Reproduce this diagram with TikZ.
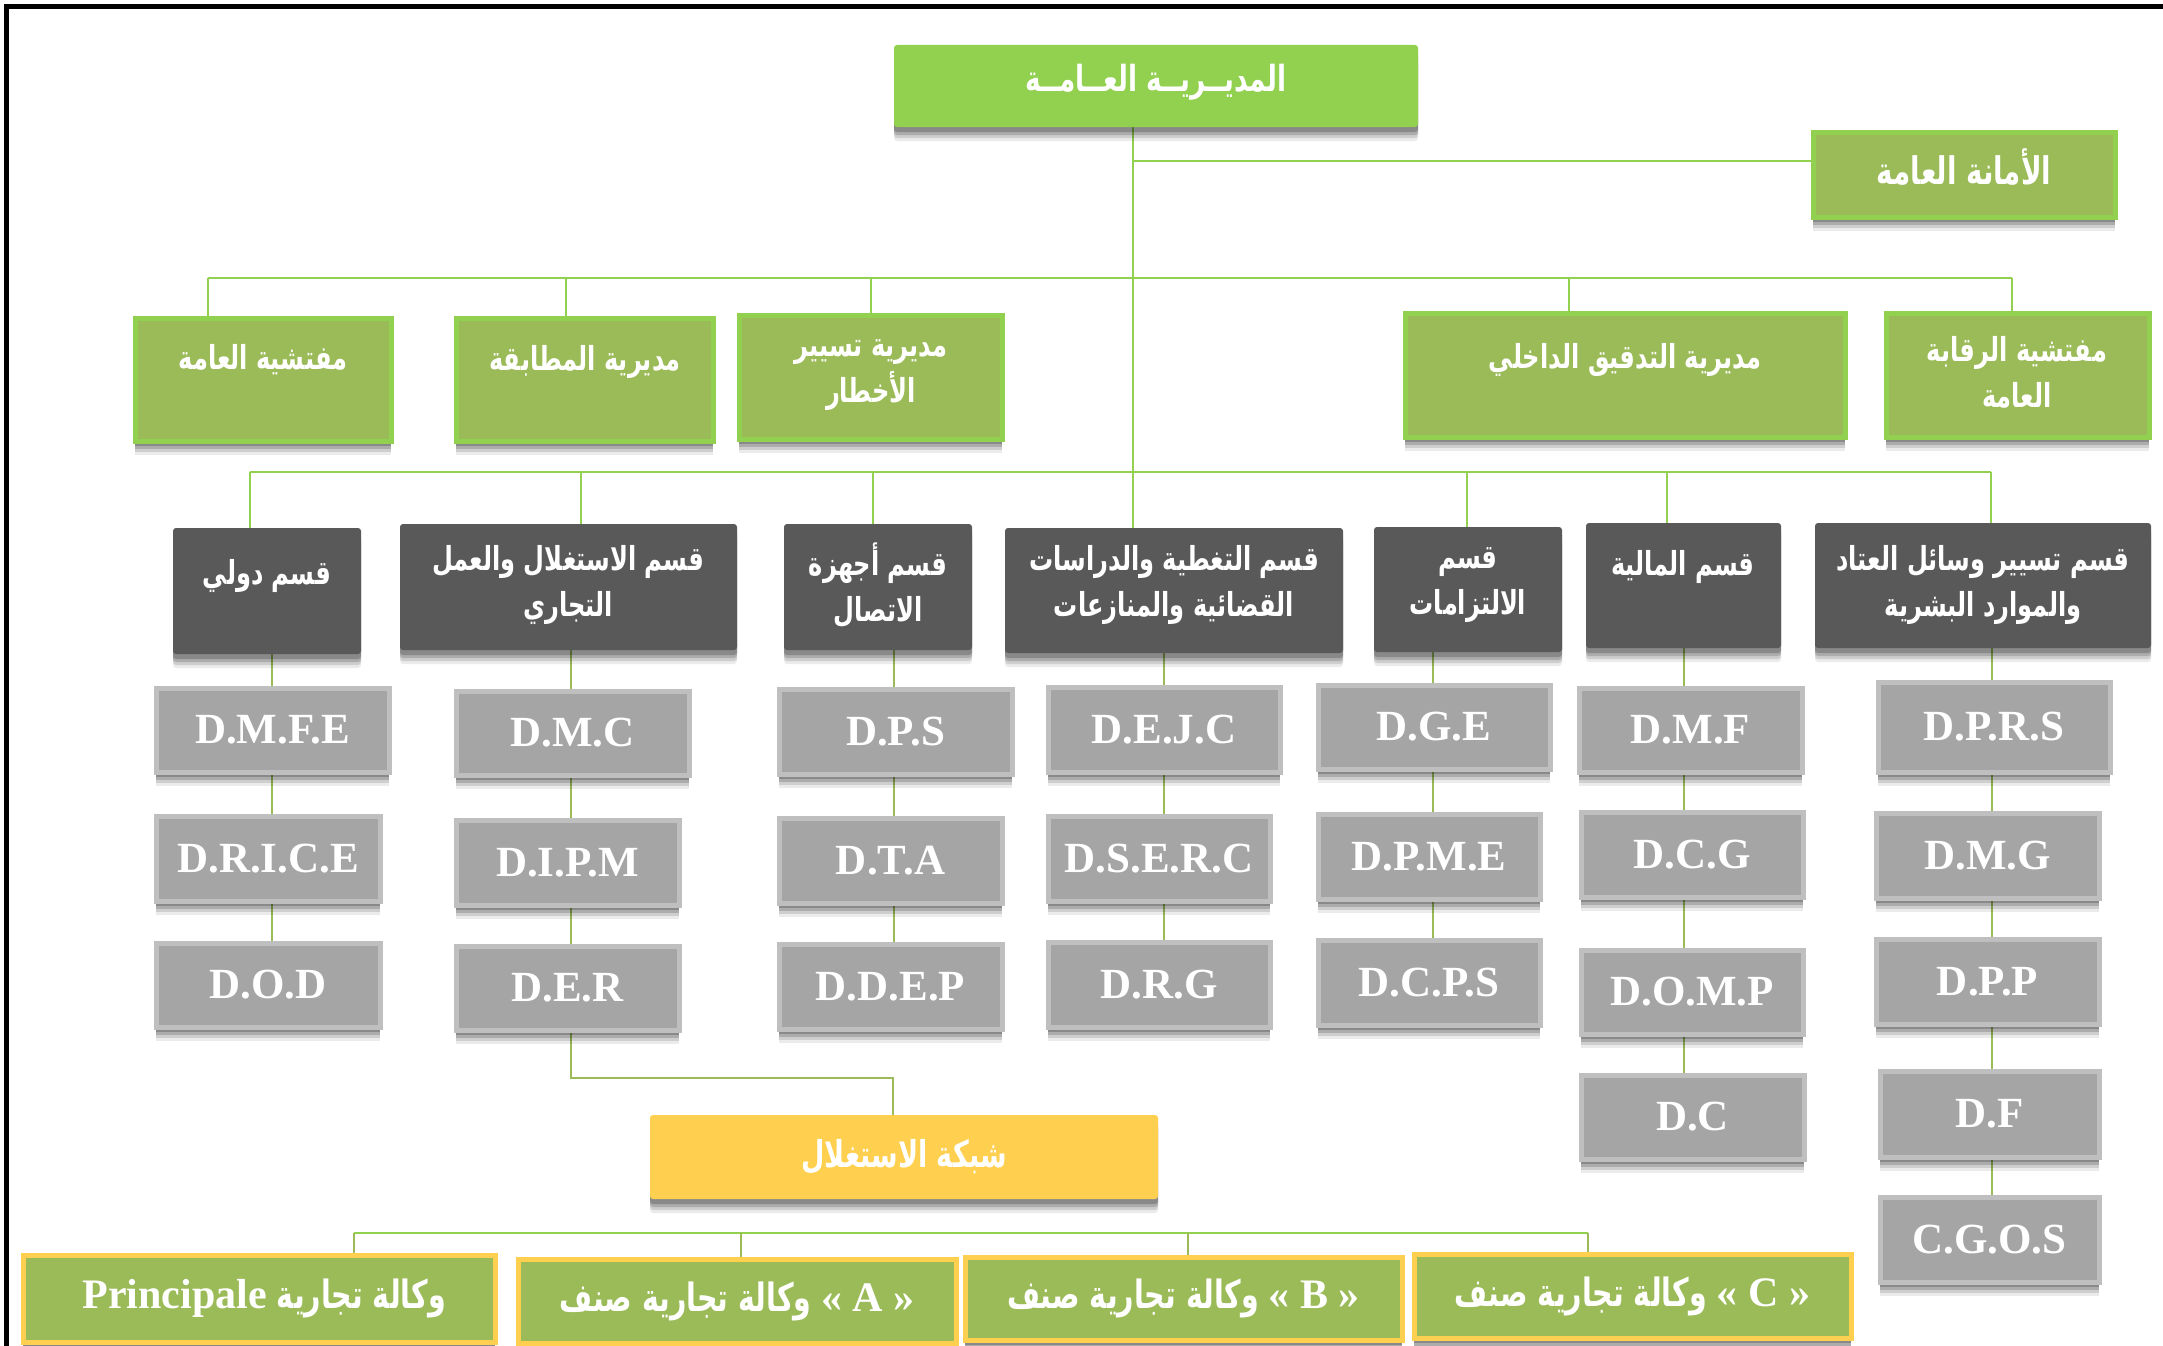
\documentclass[tikz,border=0pt]{standalone}
\usepackage{fontspec}
\TeXXeTstate=1
\newfontfamily\arabicfont[Script=Arabic,FakeStretch=0.73]{DejaVu Sans}
\newfontfamily\latinfont{Liberation Serif}

\definecolor{leaf}{HTML}{92D050}
\definecolor{olive}{HTML}{9BBB59}
\definecolor{slate}{HTML}{595959}
\definecolor{stone}{HTML}{A5A5A5}
\definecolor{stoneedge}{HTML}{BFBFBF}
\definecolor{sun}{HTML}{FFD04F}

\pgfdeclarelayer{bg}
\pgfsetlayers{bg,main}

% right-to-left run
\newcommand\ar[1]{\beginR #1\endR}
% Latin run inside Arabic text
\newcommand\la[1]{\beginL{\latinfont\fontsize{42}{46}\selectfont #1}\endL}

% box from its outer corners: style, name, x1, y1, x2, y2, text
\newcommand\orgbox[7]{%
  \node[#1, minimum width={(#5)-(#3)}, minimum height={(#6)-(#4)}]
    (#2) at ({((#3)+(#5))/2},{((#4)+(#6))/2}) {#7};}

\tikzset{
  % soft shadow built from a few offset translucent copies
  shade/.style={
    preaction={fill=black, opacity=0.08, transform canvas={yshift=-14pt}},
    preaction={fill=black, opacity=0.12, transform canvas={yshift=-11pt}},
    preaction={fill=black, opacity=0.16, transform canvas={yshift=-8pt}},
    preaction={fill=black, opacity=0.20, transform canvas={yshift=-5pt}}},
  basebox/.style={rectangle, inner sep=0pt, outer sep=0pt, shade},
  topbox/.style={basebox, fill=leaf, rounded corners=3pt},
  unitbox/.style={basebox, fill=olive, draw=leaf, line width=5pt},
  deptbox/.style={basebox, fill=slate, rounded corners=3pt},
  codebox/.style={basebox, fill=stone, draw=stoneedge, line width=5pt,
      text=white, font=\latinfont\bfseries\fontsize{43}{46}\selectfont},
  netbox/.style={basebox, fill=sun, rounded corners=3pt, text=white,
      font=\arabicfont\bfseries\fontsize{37}{46}\selectfont},
  agencybox/.style={basebox, fill=olive, draw=sun, line width=5pt, text=white,
      font=\arabicfont\bfseries\fontsize{39}{46}\selectfont},
  artxt/.style={text=white, align=center, inner sep=0pt,
      font=\arabicfont\bfseries\fontsize{33}{46}\selectfont},
  conn/.style={draw=leaf, line width=2.5pt},
  colconn/.style={draw=olive, line width=2pt},
}

\begin{document}
\begin{tikzpicture}[x=1pt,y=-1pt]
\useasboundingbox (0,0) rectangle (2163,1346);
\begin{pgfonlayer}{bg}
  \fill[white] (0,0) rectangle (2163,1346);
\end{pgfonlayer}

% ---------- head ----------
\orgbox{topbox}{gm}{894}{45}{1418}{127}{}
\node[artxt, font=\arabicfont\bfseries\fontsize{36}{46}\selectfont] (gm-t) at (1156,82) {\ar{المديــريــة العــامــة}};

\orgbox{unitbox}{sec}{1813}{132}{2115}{217}{}
\node[artxt, font=\arabicfont\bfseries\fontsize{38}{46}\selectfont] (sec-t) at (1964,167) {\ar{الأمانة العامة}};

% ---------- directorates ----------
\orgbox{unitbox}{insp}{135}{318}{391}{441}{}
\node[artxt] (insp-t) at (263,360) {\ar{مفتشية العامة}};
\orgbox{unitbox}{conf}{456}{318}{713}{441}{}
\node[artxt] (conf-t) at (585,362) {\ar{مديرية المطابقة}};
\orgbox{unitbox}{risk}{739}{315}{1002}{439}{}
\node[artxt] (risk-t) at (871,375) {\ar{مديرية تسيير}\\\ar{الأخطار}};
\orgbox{unitbox}{audit}{1405}{313}{1845}{437}{}
\node[artxt] (audit-t) at (1625,360) {\ar{مديرية التدقيق الداخلي}};
\orgbox{unitbox}{ctrl}{1886}{313}{2149}{437}{}
\node[artxt] (ctrl-t) at (2017,372) {\ar{مفتشية الرقابة}\\\ar{العامة}};

% ---------- departments ----------
\orgbox{deptbox}{dawli}{173}{528}{361}{654}{}
\node[artxt] (dawli-t) at (267,576) {\ar{قسم دولي}};
\orgbox{deptbox}{istig}{400}{524}{737}{650}{}
\node[artxt] (istig-t) at (568,585) {\ar{قسم الاستغلال والعمل}\\\ar{التجاري}};
\orgbox{deptbox}{ajhiza}{784}{524}{972}{650}{}
\node[artxt] (ajhiza-t) at (878,585) {\ar{قسم أجهزة}\\\ar{الاتصال}};
\orgbox{deptbox}{tagh}{1005}{528}{1343}{653}{}
\node[artxt] (tagh-t) at (1174,585) {\ar{قسم التغطية والدراسات}\\\ar{القضائية والمنازعات}};
\orgbox{deptbox}{iltiz}{1374}{527}{1562}{652}{}
\node[artxt] (iltiz-t) at (1468,585) {\ar{قسم}\\\ar{الالتزامات}};
\orgbox{deptbox}{maliya}{1586}{523}{1781}{648}{}
\node[artxt] (maliya-t) at (1683,567) {\ar{قسم المالية}};
\orgbox{deptbox}{itad}{1815}{523}{2151}{648}{}
\node[artxt] (itad-t) at (1983,585) {\ar{قسم تسيير وسائل العتاد}\\\ar{والموارد البشرية}};

% ---------- services ----------
\orgbox{codebox}{dmfe}{156}{688}{389}{772}{D.M.F.E}
\orgbox{codebox}{drice}{156}{816}{380}{901}{D.R.I.C.E}
\orgbox{codebox}{dod}{156}{943}{380}{1027}{D.O.D}

\orgbox{codebox}{dmc}{456}{691}{689}{775}{D.M.C}
\orgbox{codebox}{dipm}{456}{820}{679}{905}{D.I.P.M}
\orgbox{codebox}{der}{456}{946}{679}{1030}{D.E.R}

\orgbox{codebox}{dps}{779}{689}{1012}{774}{D.P.S}
\orgbox{codebox}{dta}{779}{818}{1002}{903}{D.T.A}
\orgbox{codebox}{ddep}{779}{944}{1002}{1029}{D.D.E.P}

\orgbox{codebox}{dejc}{1048}{687}{1280}{772}{D.E.J.C}
\orgbox{codebox}{dserc}{1048}{816}{1270}{901}{D.S.E.R.C}
\orgbox{codebox}{drg}{1048}{942}{1270}{1027}{D.R.G}

\orgbox{codebox}{dge}{1318}{685}{1550}{769}{D.G.E}
\orgbox{codebox}{dpme}{1318}{814}{1540}{899}{D.P.M.E}
\orgbox{codebox}{dcps}{1318}{940}{1540}{1025}{D.C.P.S}

\orgbox{codebox}{dmf}{1579}{688}{1802}{772}{D.M.F}
\orgbox{codebox}{dcg}{1581}{812}{1803}{897}{D.C.G}
\orgbox{codebox}{domp}{1581}{950}{1803}{1034}{D.O.M.P}
\orgbox{codebox}{dc}{1581}{1075}{1804}{1159}{D.C}

\orgbox{codebox}{dprs}{1878}{682}{2110}{772}{D.P.R.S}
\orgbox{codebox}{dmg}{1876}{813}{2099}{898}{D.M.G}
\orgbox{codebox}{dpp}{1876}{939}{2099}{1024}{D.P.P}
\orgbox{codebox}{df}{1880}{1071}{2099}{1157}{D.F}
\orgbox{codebox}{cgos}{1880}{1197}{2099}{1282}{C.G.O.S}

% ---------- network and agencies ----------
\orgbox{netbox}{net}{650}{1115}{1158}{1199}{\ar{شبكة الاستغلال}}
\orgbox{agencybox}{agp}{23}{1255}{495}{1342}{\ar{وكالة تجارية \la{ Principale}}}
\orgbox{agencybox}{aga}{518}{1259}{956}{1343}{\ar{\la{« A »} وكالة تجارية صنف}}
\orgbox{agencybox}{agb}{965}{1257}{1402}{1340}{\ar{\la{« B »} وكالة تجارية صنف}}
\orgbox{agencybox}{agc}{1414}{1254}{1851}{1338}{\ar{\la{« C »} وكالة تجارية صنف}}

% outer frame (top and left edges)
\draw[line width=5pt] (6,1346) -- (6,7) -- (2163,7);

% ---------- connectors ----------
\begin{pgfonlayer}{bg}
  % trunk and secretariat link
  \coordinate (trunk) at (1133,0);
  \coordinate (secj) at (1133,161);
  \draw[conn] (gm.south -| trunk) -- (tagh.north -| trunk);
  \draw[conn] (secj) -- (sec.west |- secj);

  % directorates bus
  \coordinate (u1) at (208,278);
  \coordinate (u2) at (566,278);
  \coordinate (u3) at (871,278);
  \coordinate (u4) at (1569,278);
  \coordinate (u5) at (2012,278);
  \draw[conn] (u1) -- (u5);
  \draw[conn] (u1) -- (insp.north -| u1);
  \draw[conn] (u2) -- (conf.north -| u2);
  \draw[conn] (u3) -- (risk.north -| u3);
  \draw[conn] (u4) -- (audit.north -| u4);
  \draw[conn] (u5) -- (ctrl.north -| u5);

  % departments bus
  \coordinate (p1) at (250,472);
  \coordinate (p2) at (581,472);
  \coordinate (p3) at (873,472);
  \coordinate (p5) at (1467,472);
  \coordinate (p6) at (1667,472);
  \coordinate (p7) at (1991,472);
  \draw[conn] (p1) -- (p7);
  \draw[conn] (p1) -- (dawli.north -| p1);
  \draw[conn] (p2) -- (istig.north -| p2);
  \draw[conn] (p3) -- (ajhiza.north -| p3);
  \draw[conn] (p5) -- (iltiz.north -| p5);
  \draw[conn] (p6) -- (maliya.north -| p6);
  \draw[conn] (p7) -- (itad.north -| p7);

  % service columns
  \coordinate (k1) at (271.5,0);
  \coordinate (k2) at (571,0);
  \coordinate (k3) at (894,0);
  \coordinate (k4) at (1163.5,0);
  \coordinate (k5) at (1433,0);
  \coordinate (k6) at (1684,0);
  \coordinate (k7) at (1991.5,0);
  \draw[colconn] (dawli.south -| k1) -- (dod.north -| k1);
  \draw[colconn] (istig.south -| k2) -- (der.north -| k2);
  \draw[colconn] (ajhiza.south -| k3) -- (ddep.north -| k3);
  \draw[colconn] (tagh.south -| k4) -- (drg.north -| k4);
  \draw[colconn] (iltiz.south -| k5) -- (dcps.north -| k5);
  \draw[colconn] (maliya.south -| k6) -- (dc.north -| k6);
  \draw[colconn] (itad.south -| k7) -- (cgos.north -| k7);

  % network link
  \coordinate (nj) at (893,1078);
  \draw[colconn] (der.south -| k2) |- (nj) -- (net.north -| nj);

  % agencies bus
  \coordinate (a1) at (354,1233);
  \coordinate (a2) at (741,1233);
  \coordinate (a3) at (1188,1233);
  \coordinate (a4) at (1588,1233);
  \draw[conn] (a1) -- (a4);
  \draw[colconn] (a1) -- (agp.north -| a1);
  \draw[colconn] (a2) -- (aga.north -| a2);
  \draw[colconn] (a3) -- (agb.north -| a3);
  \draw[colconn] (a4) -- (agc.north -| a4);
\end{pgfonlayer}
\end{tikzpicture}
\end{document}
